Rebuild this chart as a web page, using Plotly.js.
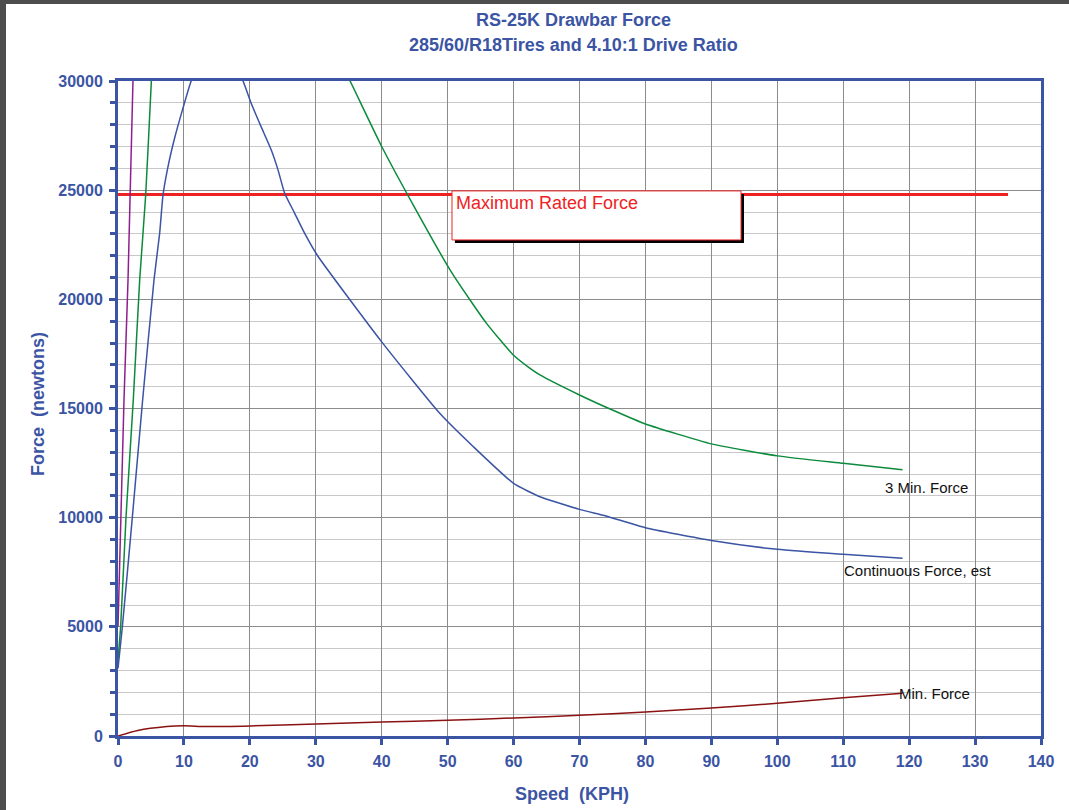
<!DOCTYPE html>
<html>
<head>
<meta charset="utf-8">
<script src="https://cdn.plot.ly/plotly-3.0.1.min.js"></script>
<style>
html,body{margin:0;padding:0;background:#fff;}
#chart{width:1069px;height:810px;}
.frameL{position:fixed;left:0;top:0;width:6px;height:810px;background:#4d4d4d;z-index:10;}
.frameT{position:fixed;left:0;top:0;width:1069px;height:4px;background:#4d4d4d;z-index:10;}
</style>
</head>
<body>
<div id="chart"></div>
<div class="frameL"></div>
<div class="frameT"></div>
<script>
// Speed (KPH) and Force (newtons)
const purpleX = [0, 0.91, 1.52, 1.87, 2.28, 2.6];
const purpleY = [5000, 15400, 20890, 24780, 30000, 34000];

const green3MinX = [0, 0.4, 1.21, 2.32, 3.29, 4.2, 5.06, 5.6, 33, 35.2, 40, 45, 50.36, 53.4, 55.9, 59.96, 62.5, 64, 70, 75, 80, 90, 100, 110, 119];
const green3MinY = [3500, 5000, 10000, 15400, 20890, 24780, 30000, 33000, 31300, 30000, 27000, 24200, 21350, 19970, 18900, 17450, 16840, 16540, 15620, 14930, 14290, 13380, 12830, 12490, 12190];

const contX = [0, 0.66, 2.17, 3.74, 5.46, 6.32, 6.83, 7.6, 8.6, 9.8, 11.1, 13, 15, 17, 18.96, 20.2, 21.7, 23.25, 24.27, 25.28, 26.8, 28.3, 30.2, 40, 48.8, 53.9, 60, 64, 70, 74, 80, 90, 100, 110, 119];
const contY = [3100, 5000, 10000, 15400, 20890, 23030, 24780, 26100, 27400, 28700, 30000, 31200, 31500, 31100, 30000, 28980, 27910, 26840, 25930, 24860, 23940, 23030, 22030, 18050, 14780, 13250, 11570, 10960, 10380, 10080, 9540, 8950, 8550, 8320, 8140];

const minX = [0, 3, 7.4, 9.9, 13.4, 20, 30, 40, 50, 60, 70, 80, 90, 100, 110, 119];
const minY = [0, 250, 430, 470, 430, 460, 550, 640, 720, 825, 950, 1100, 1280, 1500, 1750, 1960];

const maxRatedX = [0, 135];
const maxRatedY = [24800, 24800];

const xTicks = [0, 10, 20, 30, 40, 50, 60, 70, 80, 90, 100, 110, 120, 130, 140];
const yTicks = [0, 5000, 10000, 15000, 20000, 25000, 30000];

const BLUE = '#3b54a3';
const FONT = 'Liberation Sans, Arial, sans-serif';

const traces = [
  {x: maxRatedX, y: maxRatedY, mode: 'lines', line: {color: '#ee2222', width: 3}, hoverinfo: 'skip'},
  {x: purpleX, y: purpleY, mode: 'lines', line: {color: '#8e1f8e', width: 1.5}},
  {x: green3MinX, y: green3MinY, mode: 'lines', line: {color: '#0b8a3c', width: 1.5, shape: 'spline', smoothing: 0.5}},
  {x: contX, y: contY, mode: 'lines', line: {color: '#3b54a3', width: 1.5, shape: 'spline', smoothing: 0.5}},
  {x: minX, y: minY, mode: 'lines', line: {color: '#8b1212', width: 1.5, shape: 'spline', smoothing: 0.6}}
];

const layout = {
  width: 1069, height: 810,
  margin: {l: 118, r: 28, t: 81, b: 74},
  paper_bgcolor: '#ffffff', plot_bgcolor: '#ffffff',
  showlegend: false,
  xaxis: {
    range: [0, 140], tickvals: xTicks, ticktext: xTicks.map(String),
    showline: true, linecolor: BLUE, linewidth: 3, mirror: true,
    ticks: 'outside', ticklen: 6, tickwidth: 3, tickcolor: BLUE, ticklabelstandoff: 3,
    tickfont: {family: FONT, size: 16, color: BLUE, weight: 'bold'},
    showgrid: true, gridcolor: '#8c8c8c', gridwidth: 1, zeroline: false
  },
  yaxis: {
    range: [0, 30000], tickvals: yTicks, ticktext: yTicks.map(String),
    showline: true, linecolor: BLUE, linewidth: 3, mirror: true,
    ticks: 'outside', ticklen: 6, tickwidth: 3, tickcolor: BLUE, ticklabelstandoff: 3,
    tickfont: {family: FONT, size: 16, color: BLUE, weight: 'bold'},
    showgrid: true, gridcolor: '#8c8c8c', gridwidth: 1, zeroline: false,
    minor: {dtick: 1000, ticks: 'outside', ticklen: 5, tickwidth: 3, tickcolor: BLUE, showgrid: true, gridcolor: '#c8c8c8', gridwidth: 1}
  },
  shapes: [
    {type: 'rect', xref: 'x', yref: 'y', x0: 51.1, x1: 94.95, y0: 22580, y1: 24830, fillcolor: '#000000', line: {width: 0}, layer: 'above'},
    {type: 'rect', xref: 'x', yref: 'y', x0: 50.66, x1: 94.5, y0: 22720, y1: 24966, fillcolor: '#ffffff', line: {color: '#ee2222', width: 1}, layer: 'above'}
  ],
  annotations: [
    {x: 0.493, y: 1.0931, xref: 'paper', yref: 'paper', text: 'RS-25K Drawbar Force', showarrow: false, xanchor: 'center', yanchor: 'middle', font: {family: FONT, size: 18, color: BLUE, weight: 'bold'}},
    {x: 0.493, y: 1.0550, xref: 'paper', yref: 'paper', text: '285/60/R18Tires and 4.10:1 Drive Ratio', showarrow: false, xanchor: 'center', yanchor: 'middle', font: {family: FONT, size: 18, color: BLUE, weight: 'bold'}},
    {x: 0.4919, y: -0.0885, xref: 'paper', yref: 'paper', text: 'Speed  (KPH)', showarrow: false, xanchor: 'center', yanchor: 'middle', font: {family: FONT, size: 18, color: BLUE, weight: 'bold'}},
    {x: -0.0867, y: 0.5069, xref: 'paper', yref: 'paper', text: 'Force  (newtons)', textangle: -90, showarrow: false, xanchor: 'center', yanchor: 'middle', font: {family: FONT, size: 18, color: BLUE, weight: 'bold'}},
    {x: 50.96, y: 24420, xref: 'x', yref: 'y', text: 'Maximum Rated Force', showarrow: false, xanchor: 'left', yanchor: 'middle', font: {family: FONT, size: 18, color: '#ee2222'}},
    {x: 116.0, y: 11360, xref: 'x', yref: 'y', text: '3 Min. Force', showarrow: false, xanchor: 'left', yanchor: 'middle', font: {family: FONT, size: 15, color: '#111111'}},
    {x: 109.8, y: 7560, xref: 'x', yref: 'y', text: 'Continuous Force, est', showarrow: false, xanchor: 'left', yanchor: 'middle', font: {family: FONT, size: 15, color: '#111111'}},
    {x: 118.15, y: 1924, xref: 'x', yref: 'y', text: 'Min. Force', showarrow: false, xanchor: 'left', yanchor: 'middle', font: {family: FONT, size: 15, color: '#111111'}}
  ]
};

Plotly.newPlot('chart', traces, layout, {displayModeBar: false, staticPlot: true});
</script>
</body>
</html>
